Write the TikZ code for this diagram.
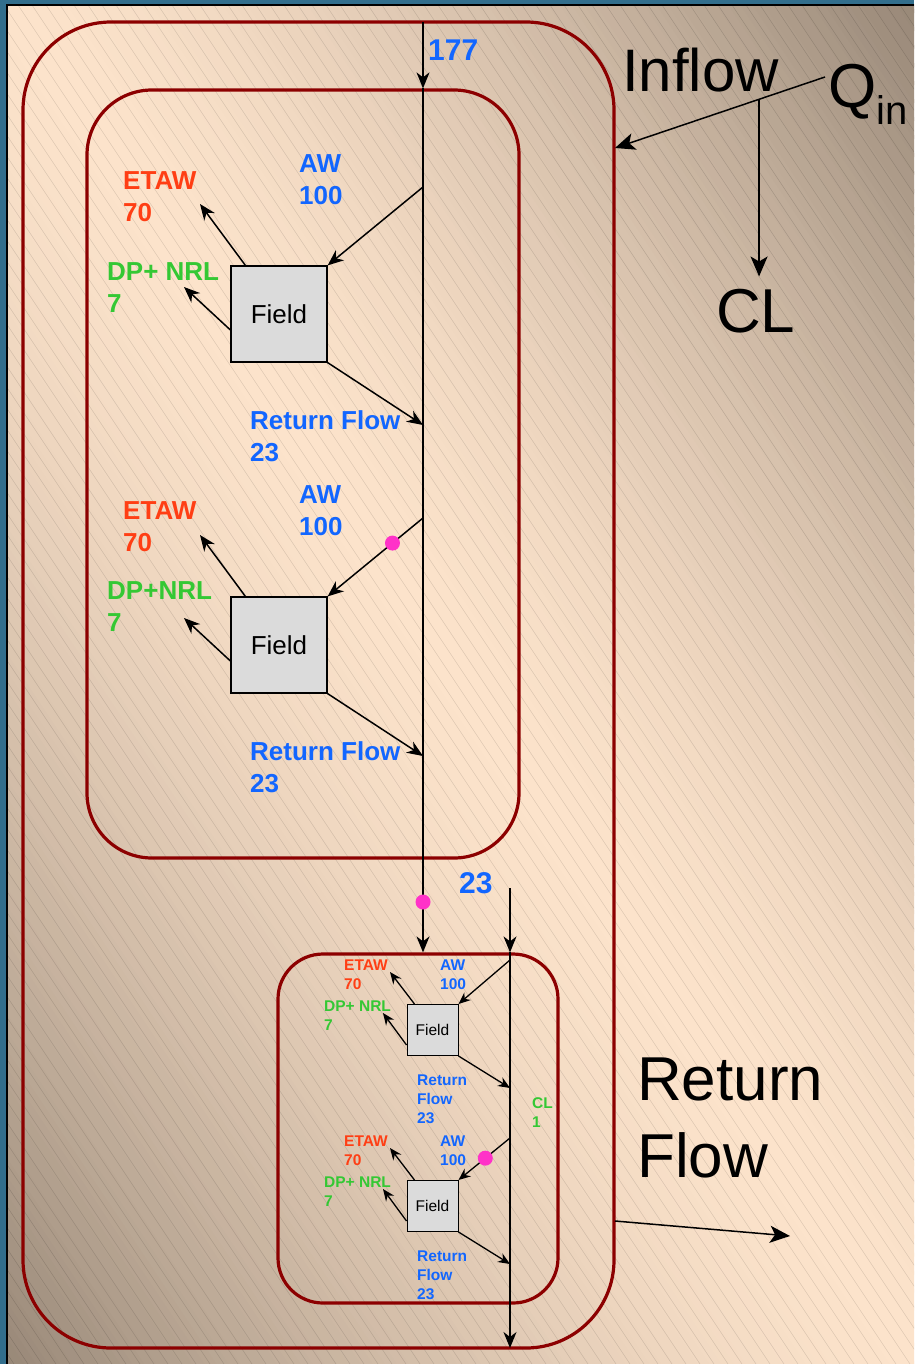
\documentclass[tikz,border=0pt]{standalone}
\usepackage{fontspec}
\setmainfont{Liberation Sans}
\usetikzlibrary{arrows.meta,positioning}

\definecolor{boxred}{RGB}{140,0,0}
\definecolor{etawred}{RGB}{255,62,20}
\definecolor{awblue}{RGB}{18,102,255}
\definecolor{dpgreen}{RGB}{52,200,52}
\definecolor{dotpink}{RGB}{255,50,200}
\definecolor{peach}{RGB}{252,227,203}
\definecolor{taupe}{RGB}{152,136,120}
\definecolor{frameblue}{RGB}{50,110,140}

\begin{document}
\begin{tikzpicture}[
x=1pt, y=-1pt,
region/.style={rectangle, draw=boxred, line width=3.2pt},
field/.style={rectangle, draw, fill=black!14, line width=1.2pt, minimum size=96pt, font=\fontsize{26}{30}\selectfont},
smallfield/.style={field, minimum size=51pt, line width=1pt, font=\fontsize{15.5}{18}\selectfont},
lbl/.style={anchor=north west, inner sep=0pt, align=left, font=\bfseries\fontsize{26}{32}\selectfont},
smalllbl/.style={lbl, font=\bfseries\fontsize{15.5}{19}\selectfont},
big/.style={anchor=base west, inner sep=0pt, align=left, font=\fontsize{62}{77}\selectfont},
hatch/.style={draw=black, line width=0.4pt, opacity=0.16},
arrow/.style={-{Stealth[length=16pt, width=13pt, inset=5pt]}, line width=1.5pt},
smallarrow/.style={-{Stealth[length=12pt, width=10pt, inset=4pt]}, line width=1.3pt},
bigarrow/.style={-{Stealth[length=20pt, width=17pt, inset=5pt]}, line width=1.5pt},
dot/.style={circle, fill=dotpink, inner sep=0pt, minimum size=15pt}
]
\useasboundingbox (0,0) rectangle (914,1364);

% background: peach along the diagonal, taupe towards the other corners
\fill[frameblue] (0,0) rectangle (914,1364);
\begin{scope}
\clip (7,5) rectangle (914,1364);
\foreach \s in {-780,-770,...,760} {
  \pgfmathsetmacro\mix{100*(min(1,abs(\s+5)/754))^1.5}
  \pgfmathsetmacro\bx{460.5+0.832*\s-555}
  \pgfmathsetmacro\by{684.5-0.555*\s-832}
  \fill[taupe!\mix!peach] (\bx,\by) -- ++(1110,1664) -- ++(10,-6.7) -- ++(-1110,-1664) -- cycle;
}
\foreach \i in {-906,-892,...,914}
  \draw[hatch] (\i,5) -- ++(906,1359);
\end{scope}
\draw[line width=1.5pt] (7,1364) -- (7,5) -- (914,5);

% regions
\node[region, minimum width=591pt, minimum height=1326pt, rounded corners=88pt] (basin) at (318.5,685) {};
\node[region, minimum width=432pt, minimum height=768pt, rounded corners=65pt] (district) at (303,474) {};
\node[region, minimum width=280pt, minimum height=349pt, rounded corners=45pt] (subarea) at (418,1128.5) {};

% fields
\node[field] (field1) at (279,314) {Field};
\node[field] (field2) at (279,645) {Field};
\node[smallfield] (field3) at (432.5,1030) {Field};
\node[smallfield] (field4) at (432.5,1206) {Field};

% points on the canal
\coordinate (top) at (423,22);
\coordinate (in) at (top |- district.north);
\coordinate (tap1) at (423,187);
\coordinate (back1) at (423,425);
\coordinate (tap2) at (423,518);
\coordinate (back2) at (423,756);
\coordinate (out) at (top |- subarea.north);
\coordinate (cltop) at (510,888);
\coordinate (clin) at (cltop |- subarea.north);
\coordinate (tap3) at (510,960);
\coordinate (back3) at (510,1088);
\coordinate (tap4) at (510,1138);
\coordinate (back4) at (510,1264);
\coordinate (clout) at (510,1348);

% free ends of the loss arrows
\coordinate (etawend1) at (200,204);
\coordinate (dpend1) at (184,287);
\coordinate (etawend2) at (200,535);
\coordinate (dpend2) at (184,618);
\coordinate (etawend3) at (390,972);
\coordinate (dpend3) at (383,1013);
\coordinate (etawend4) at (390,1148);
\coordinate (dpend4) at (383,1189);

% labels
\node[lbl, text=awblue] (inq) at (428,40) {\fontsize{30}{36}\selectfont 177};
\node[lbl, text=etawred] (etaw1) at (123,171) {ETAW\\70};
\node[lbl, text=awblue] (aw1) at (299,154) {AW\\100};
\node[lbl, text=dpgreen] (dp1) at (107,262) {DP+ NRL\\7};
\node[lbl, text=awblue] (rf1) at (250,410) {Return Flow\\23};
\node[lbl, text=etawred] (etaw2) at (123,501) {ETAW\\70};
\node[lbl, text=awblue] (aw2) at (299,485) {AW\\100};
\node[lbl, text=dpgreen] (dp2) at (107,581) {DP+NRL\\7};
\node[lbl, text=awblue] (rf2) at (250,741) {Return Flow\\23};
\node[lbl, text=awblue] (clq) at (459,872) {\fontsize{30}{36}\selectfont 23};

\node[smalllbl, text=etawred] (etaw3) at (344,960) {ETAW\\70};
\node[smalllbl, text=awblue] (aw3) at (440,960) {AW\\100};
\node[smalllbl, text=dpgreen] (dp3) at (324,1001) {DP+ NRL\\7};
\node[smalllbl, text=awblue] (rf3) at (417,1075) {Return\\Flow\\23};
\node[smalllbl, text=dpgreen] (cl1) at (532,1097) {CL\\1};
\node[smalllbl, text=etawred] (etaw4) at (344,1136) {ETAW\\70};
\node[smalllbl, text=awblue] (aw4) at (440,1136) {AW\\100};
\node[smalllbl, text=dpgreen] (dp4) at (324,1177) {DP+ NRL\\7};
\node[smalllbl, text=awblue] (rf4) at (417,1251) {Return\\Flow\\23};

\node[big, font=\fontsize{60}{70}\selectfont] (inflow) at (622,92) {Inflow};
\node[big] (qin) at (828,108) {Q\raisebox{-17pt}{\fontsize{40}{40}\selectfont in}};
\node[big] (cl) at (716,332) {CL};
\node[big] (retflow) at (637,1177) {Return\\Flow};

% canal
\draw[arrow] (top) -- (in);
\draw[arrow] (in) -- (out);
\draw[arrow] (cltop) -- (clin);
\draw[arrow] (clin) -- (clout);

% field 1
\draw[arrow] (tap1) -- (field1.north east);
\draw[arrow] ([xshift=15pt]field1.north west) -- (etawend1);
\draw[arrow] ([yshift=-16pt]field1.west) -- (dpend1);
\draw[arrow] (field1.south east) -- (back1);

% field 2
\draw[arrow] (tap2) -- (field2.north east);
\draw[arrow] ([xshift=15pt]field2.north west) -- (etawend2);
\draw[arrow] ([yshift=-16pt]field2.west) -- (dpend2);
\draw[arrow] (field2.south east) -- (back2);

% field 3
\draw[smallarrow] (tap3) -- (field3.north east);
\draw[smallarrow] ([xshift=8pt]field3.north west) -- (etawend3);
\draw[smallarrow] ([yshift=-15pt]field3.west) -- (dpend3);
\draw[smallarrow] (field3.south east) -- (back3);

% field 4
\draw[smallarrow] (tap4) -- (field4.north east);
\draw[smallarrow] ([xshift=8pt]field4.north west) -- (etawend4);
\draw[smallarrow] ([yshift=-15pt]field4.west) -- (dpend4);
\draw[smallarrow] (field4.south east) -- (back4);

% leaks
\node[dot] (leak1) at (423,902) {};
\path (tap2) -- (field2.north east) node[dot, pos=0.32] (leak2) {};
\path (tap4) -- (field4.north east) node[dot, pos=0.48] (leak4) {};

% inflow and outflow
\coordinate (qstart) at (825,77);
\coordinate (inflowend) at (615,148);
\path (qstart) -- (inflowend) coordinate[pos=0.314] (split);
\draw[bigarrow] (qstart) -- (inflowend);
\draw[bigarrow] (split) -- ([yshift=12pt]split |- cl.north);
\coordinate (rfout) at (615,1221);
\coordinate (rfend) at (790,1236);
\draw[bigarrow] (rfout) -- (rfend);

\end{tikzpicture}
\end{document}
